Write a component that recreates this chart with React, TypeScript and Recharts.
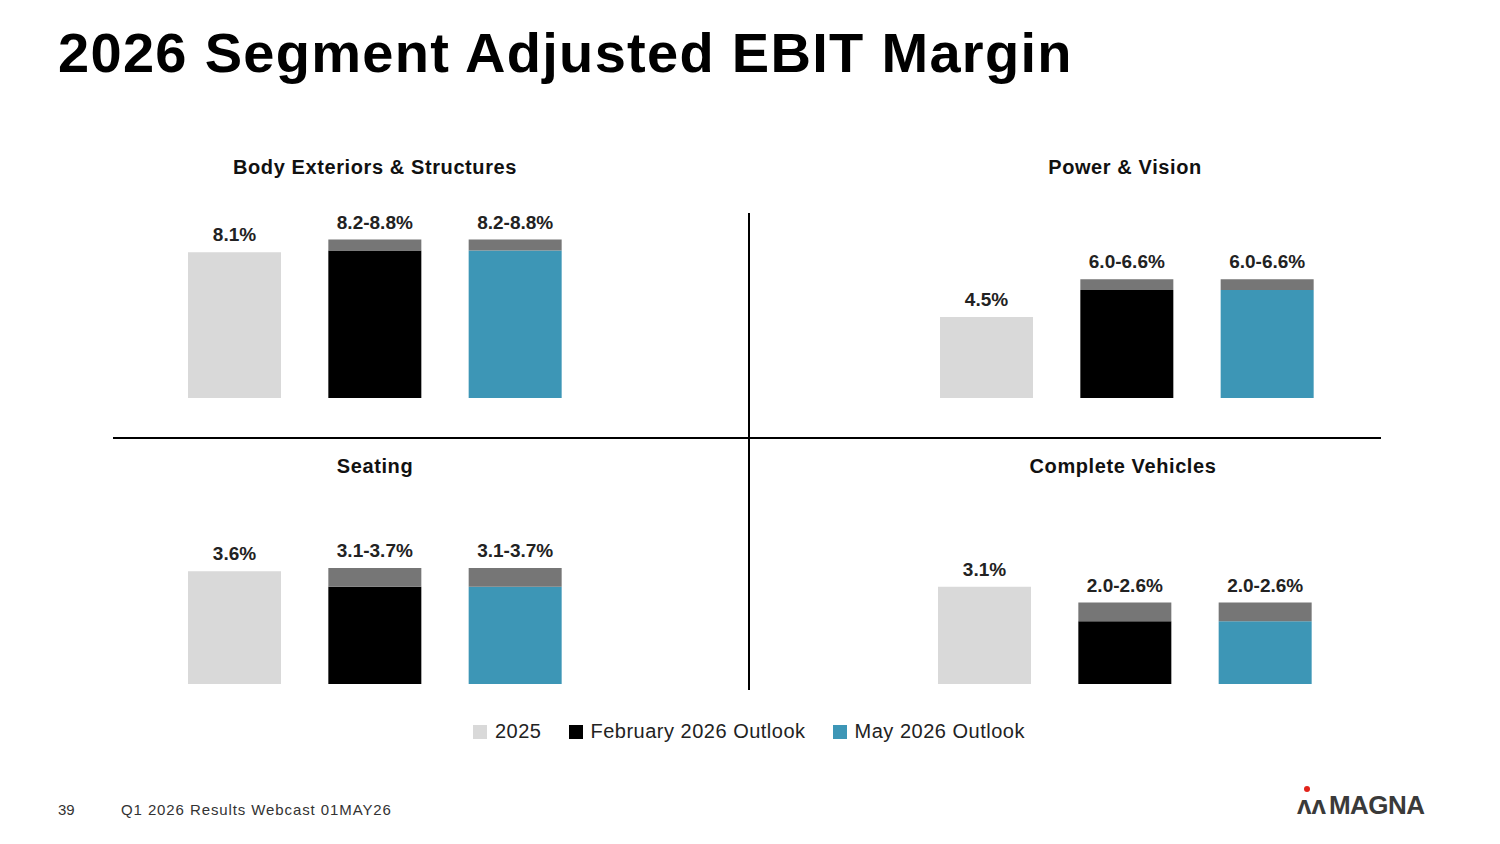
import { Bar, BarChart, Cell, LabelList, XAxis, YAxis } from "recharts";

const categories = ["2025", "February 2026 Outlook", "May 2026 Outlook"];
const bodyLow = [8.1, 8.2, 8.2];
const bodyHigh = [8.1, 8.8, 8.8];
const powerLow = [4.5, 6.0, 6.0];
const powerHigh = [4.5, 6.6, 6.6];
const seatingLow = [3.6, 3.1, 3.1];
const seatingHigh = [3.6, 3.7, 3.7];
const vehiclesLow = [3.1, 2.0, 2.0];
const vehiclesHigh = [3.1, 2.6, 2.6];

const colors = ["#d9d9d9", "#000000", "#3d96b6"];
const RANGE = "#767676";
const FONT = "Arial, 'Liberation Sans', sans-serif";
const NARROW = "'Liberation Sans Narrow', 'Arial Narrow', Arial, sans-serif";
const TOPPAD = 30;

function build(low: number[], high: number[]) {
  return categories.map((name, i) => ({
    name,
    base: low[i],
    range: +(high[i] - low[i]).toFixed(2),
    label: low[i] === high[i] ? `${low[i].toFixed(1)}%` : `${low[i].toFixed(1)}-${high[i].toFixed(1)}%`,
  }));
}

type PanelProps = {
  low: number[];
  high: number[];
  left: number;
  top: number;
  height: number;
  max: number;
};

function Panel({ low, high, left, top, height, max }: PanelProps) {
  const data = build(low, high);
  const pxPer = height / max;
  return (
    <div style={{ position: "absolute", left, top: top - TOPPAD }}>
      <BarChart width={421} height={height + TOPPAD} data={data} margin={{ top: TOPPAD, right: 0, bottom: 0, left: 0 }} barSize={93}>
        <XAxis dataKey="name" hide />
        <YAxis hide domain={[0, max]} />
        <Bar dataKey="base" stackId="a" isAnimationActive={false}>
          {data.map((_, i) => (
            <Cell key={i} fill={colors[i]} />
          ))}
          <LabelList
            dataKey="label"
            content={(p: any) => {
              const d = data[p.index];
              const y = Number(p.y) - d.range * pxPer - 11;
              return (
                <text x={Number(p.x) + Number(p.width) / 2} y={y} textAnchor="middle" fontFamily={NARROW} fontWeight={700} fontSize={19} fill="#222">
                  {d.label}
                </text>
              );
            }}
          />
        </Bar>
        <Bar dataKey="range" stackId="a" fill={RANGE} isAnimationActive={false} />
      </BarChart>
    </div>
  );
}

const titleStyle: React.CSSProperties = {
  position: "absolute",
  fontFamily: FONT,
  fontWeight: 700,
  fontSize: 20,
  letterSpacing: 0.6,
  color: "#111",
  transform: "translateX(-50%)",
  whiteSpace: "nowrap",
};

export default function App() {
  return (
    <div style={{ position: "fixed", left: 0, top: 0, width: 1500, height: 844, background: "#fff", fontFamily: FONT, overflow: "hidden" }}>
      <div style={{ position: "absolute", left: 58, top: 20, fontSize: 56, fontWeight: 700, letterSpacing: 1.3, color: "#000", whiteSpace: "nowrap" }}>
        2026 Segment Adjusted EBIT Margin
      </div>

      <div style={{ ...titleStyle, left: 375, top: 156 }}>Body Exteriors &amp; Structures</div>
      <div style={{ ...titleStyle, left: 1125, top: 156 }}>Power &amp; Vision</div>
      <div style={{ ...titleStyle, left: 375, top: 455 }}>Seating</div>
      <div style={{ ...titleStyle, left: 1123, top: 455 }}>Complete Vehicles</div>

      <div style={{ position: "absolute", left: 748, top: 213, width: 2, height: 477, background: "#000" }} />
      <div style={{ position: "absolute", left: 113, top: 437, width: 1268, height: 2, background: "#000" }} />

      <Panel low={bodyLow} high={bodyHigh} left={164} top={218} height={180} max={10} />
      <Panel low={powerLow} high={powerHigh} left={916} top={218} height={180} max={10} />
      <Panel low={seatingLow} high={seatingHigh} left={164} top={543} height={141} max={4.5} />
      <Panel low={vehiclesLow} high={vehiclesHigh} left={914} top={543} height={141} max={4.5} />

      <div style={{ position: "absolute", left: 473, top: 720, display: "flex", alignItems: "center", fontSize: 20, letterSpacing: 0.5, color: "#222" }}>
        {categories.map((c, i) => (
          <div key={c} style={{ display: "flex", alignItems: "center", marginRight: 27 }}>
            <span style={{ width: 14, height: 14, background: colors[i], marginRight: 8, display: "inline-block" }} />
            {c}
          </div>
        ))}
      </div>

      <div style={{ position: "absolute", left: 58, top: 801, fontSize: 15, color: "#333" }}>39</div>
      <div style={{ position: "absolute", left: 121, top: 801, fontSize: 15, letterSpacing: 0.9, color: "#333" }}>Q1 2026 Results Webcast 01MAY26</div>
      <div style={{ position: "absolute", left: 1297, top: 790, display: "flex", alignItems: "flex-end", color: "#3a3a3a" }}>
        <span style={{ position: "relative", fontSize: 26, fontWeight: 900, marginRight: 3 }}>
          <span style={{ position: "absolute", left: 7, top: -4, width: 6, height: 6, borderRadius: 3, background: "#e2231a" }} />
          ʌʌ
        </span>
        <span style={{ fontSize: 26, fontWeight: 900, letterSpacing: -0.5 }}>MAGNA</span>
      </div>
    </div>
  );
}
